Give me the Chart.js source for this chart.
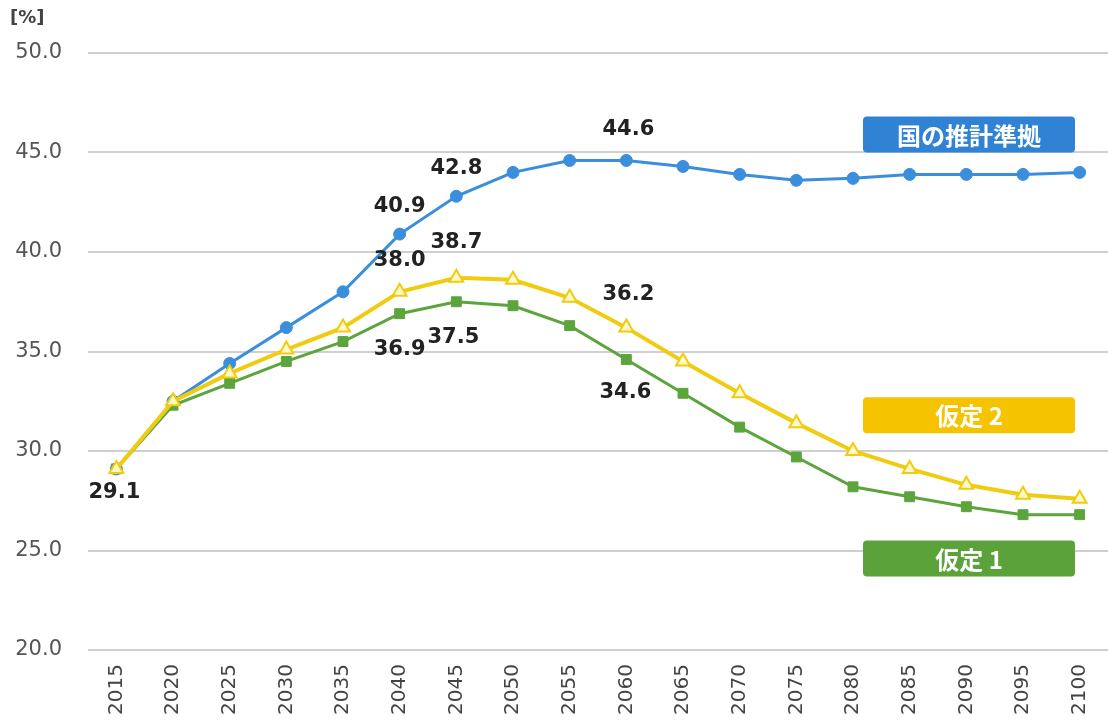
<!DOCTYPE html>
<html>
<head>
<meta charset="utf-8">
<script src="https://cdn.jsdelivr.net/npm/chart.js@4/dist/chart.umd.min.js"></script>
<style>
  body { margin: 0; background: #fff; }
  #wrap { width: 1108px; height: 724px; }
</style>
</head>
<body>
<div id="wrap"><canvas id="grafico" width="1108" height="724"></canvas></div>
<script>
const years = ['2015','2020','2025','2030','2035','2040','2045','2050','2055','2060',
               '2065','2070','2075','2080','2085','2090','2095','2100'];
const kuni   = [29.1, 32.5, 34.4, 36.2, 38.0, 40.9, 42.8, 44.0, 44.6, 44.6, 44.3, 43.9, 43.6, 43.7, 43.9, 43.9, 43.9, 44.0];
const katei2 = [29.1, 32.5, 33.9, 35.1, 36.2, 38.0, 38.7, 38.6, 37.7, 36.2, 34.5, 32.9, 31.4, 30.0, 29.1, 28.3, 27.8, 27.6];
const katei1 = [29.1, 32.3, 33.4, 34.5, 35.5, 36.9, 37.5, 37.3, 36.3, 34.6, 32.9, 31.2, 29.7, 28.2, 27.7, 27.2, 26.8, 26.8];
const yTicks = [20, 25, 30, 35, 40, 45, 50];

const seriesNames = ['仮定 2', '仮定 1', '国の推計準拠'];
const colores = ['#f0cc10', '#5ca43c', '#3a8edb'];
const boxColores = ['#f5c300', '#5aa239', '#2f82d4'];

// value labels: dataset index, point index, offset from point
const callouts = [
  { ds: 0, i: 0, dx: -2, dy: 24 },
  { ds: 2, i: 5, dx: 0, dy: -28 },
  { ds: 2, i: 6, dx: 0, dy: -28 },
  { ds: 2, i: 9, dx: 2, dy: -31 },
  { ds: 0, i: 5, dx: 0, dy: -31 },
  { ds: 0, i: 6, dx: 0, dy: -35 },
  { ds: 0, i: 9, dx: 2, dy: -33 },
  { ds: 1, i: 5, dx: 0, dy: 36 },
  { ds: 1, i: 6, dx: -3, dy: 36 },
  { ds: 1, i: 9, dx: -1, dy: 33 }
];

// legend boxes (centre value on y axis)
const caixas = [
  { ds: 2, yv: 45.9 },
  { ds: 0, yv: 31.8 },
  { ds: 1, yv: 24.6 }
];

const overlay = {
  id: 'overlay',
  afterDatasetsDraw(chart) {
    const c = chart.ctx;
    c.save();
    c.fillStyle = '#222';
    c.font = 'bold 21px "DejaVu Sans"';
    c.textAlign = 'center';
    c.textBaseline = 'middle';
    callouts.forEach(l => {
      const pt = chart.getDatasetMeta(l.ds).data[l.i];
      const v = chart.data.datasets[l.ds].data[l.i];
      c.fillText(v.toFixed(1), pt.x + l.dx, pt.y + l.dy);
    });

    const area = chart.chartArea;
    const y = chart.scales.y;
    caixas.forEach(b => {
      const cy = y.getPixelForValue(b.yv);
      const x0 = area.right - 245, w = 212, h = 36;
      c.fillStyle = boxColores[b.ds];
      c.beginPath();
      c.roundRect(x0, cy - h / 2, w, h, 4);
      c.fill();
      c.fillStyle = '#fff';
      c.font = 'bold 24px "Noto Sans CJK JP"';
      c.fillText(seriesNames[b.ds], x0 + w / 2, cy + 1);
    });

    c.fillStyle = '#444';
    c.font = 'bold 18px "DejaVu Sans"';
    c.textAlign = 'left';
    c.fillText('[%]', 10, 18);
    c.restore();
  }
};

new Chart(document.getElementById('grafico'), {
  type: 'line',
  data: {
    labels: years,
    datasets: [{
      label: seriesNames[0],
      data: katei2,
      order: 1,
      borderColor: colores[0],
      borderWidth: 4,
      pointStyle: 'triangle',
      pointRadius: 8,
      pointBorderWidth: 2,
      pointBackgroundColor: '#fff8c8',
      pointBorderColor: colores[0]
    },
    {
      label: seriesNames[1],
      data: katei1,
      order: 2,
      borderColor: colores[1],
      borderWidth: 3,
      pointStyle: 'rect',
      pointRadius: 7,
      pointBorderWidth: 1,
      pointBackgroundColor: colores[1],
      pointBorderColor: colores[1]
    },
    {
      label: seriesNames[2],
      data: kuni,
      order: 3,
      borderColor: colores[2],
      borderWidth: 3,
      pointStyle: 'circle',
      pointRadius: 6,
      pointBorderWidth: 1,
      pointBackgroundColor: colores[2],
      pointBorderColor: colores[2]
    }]
  },
  options: {
    responsive: false,
    animation: false,
    layout: { autoPadding: false, padding: { left: 10, right: 0, top: 53, bottom: 8 } },
    plugins: {
      legend: { display: false },
      tooltip: { enabled: false }
    },
    scales: {
      x: {
        offset: true,
        grid: { display: false },
        border: { display: false },
        ticks: {
          minRotation: 90,
          maxRotation: 90,
          padding: 6,
          color: '#444',
          font: { family: 'DejaVu Sans', size: 20 }
        },
        afterFit: s => { s.height = 66; s.paddingLeft = 0; s.paddingRight = 0; }
      },
      y: {
        min: 20,
        max: 50,
        afterBuildTicks: s => { s.ticks = yTicks.map(v => ({ value: v })); },
        grid: { color: '#cfcfcf', lineWidth: 2, drawTicks: false },
        border: { display: false },
        ticks: {
          padding: 26,
          color: '#555',
          font: { family: 'DejaVu Sans', size: 21 },
          callback: v => v.toFixed(1)
        },
        afterFit: s => { s.width = 78; }
      }
    }
  },
  plugins: [overlay]
});
</script>
</body>
</html>
